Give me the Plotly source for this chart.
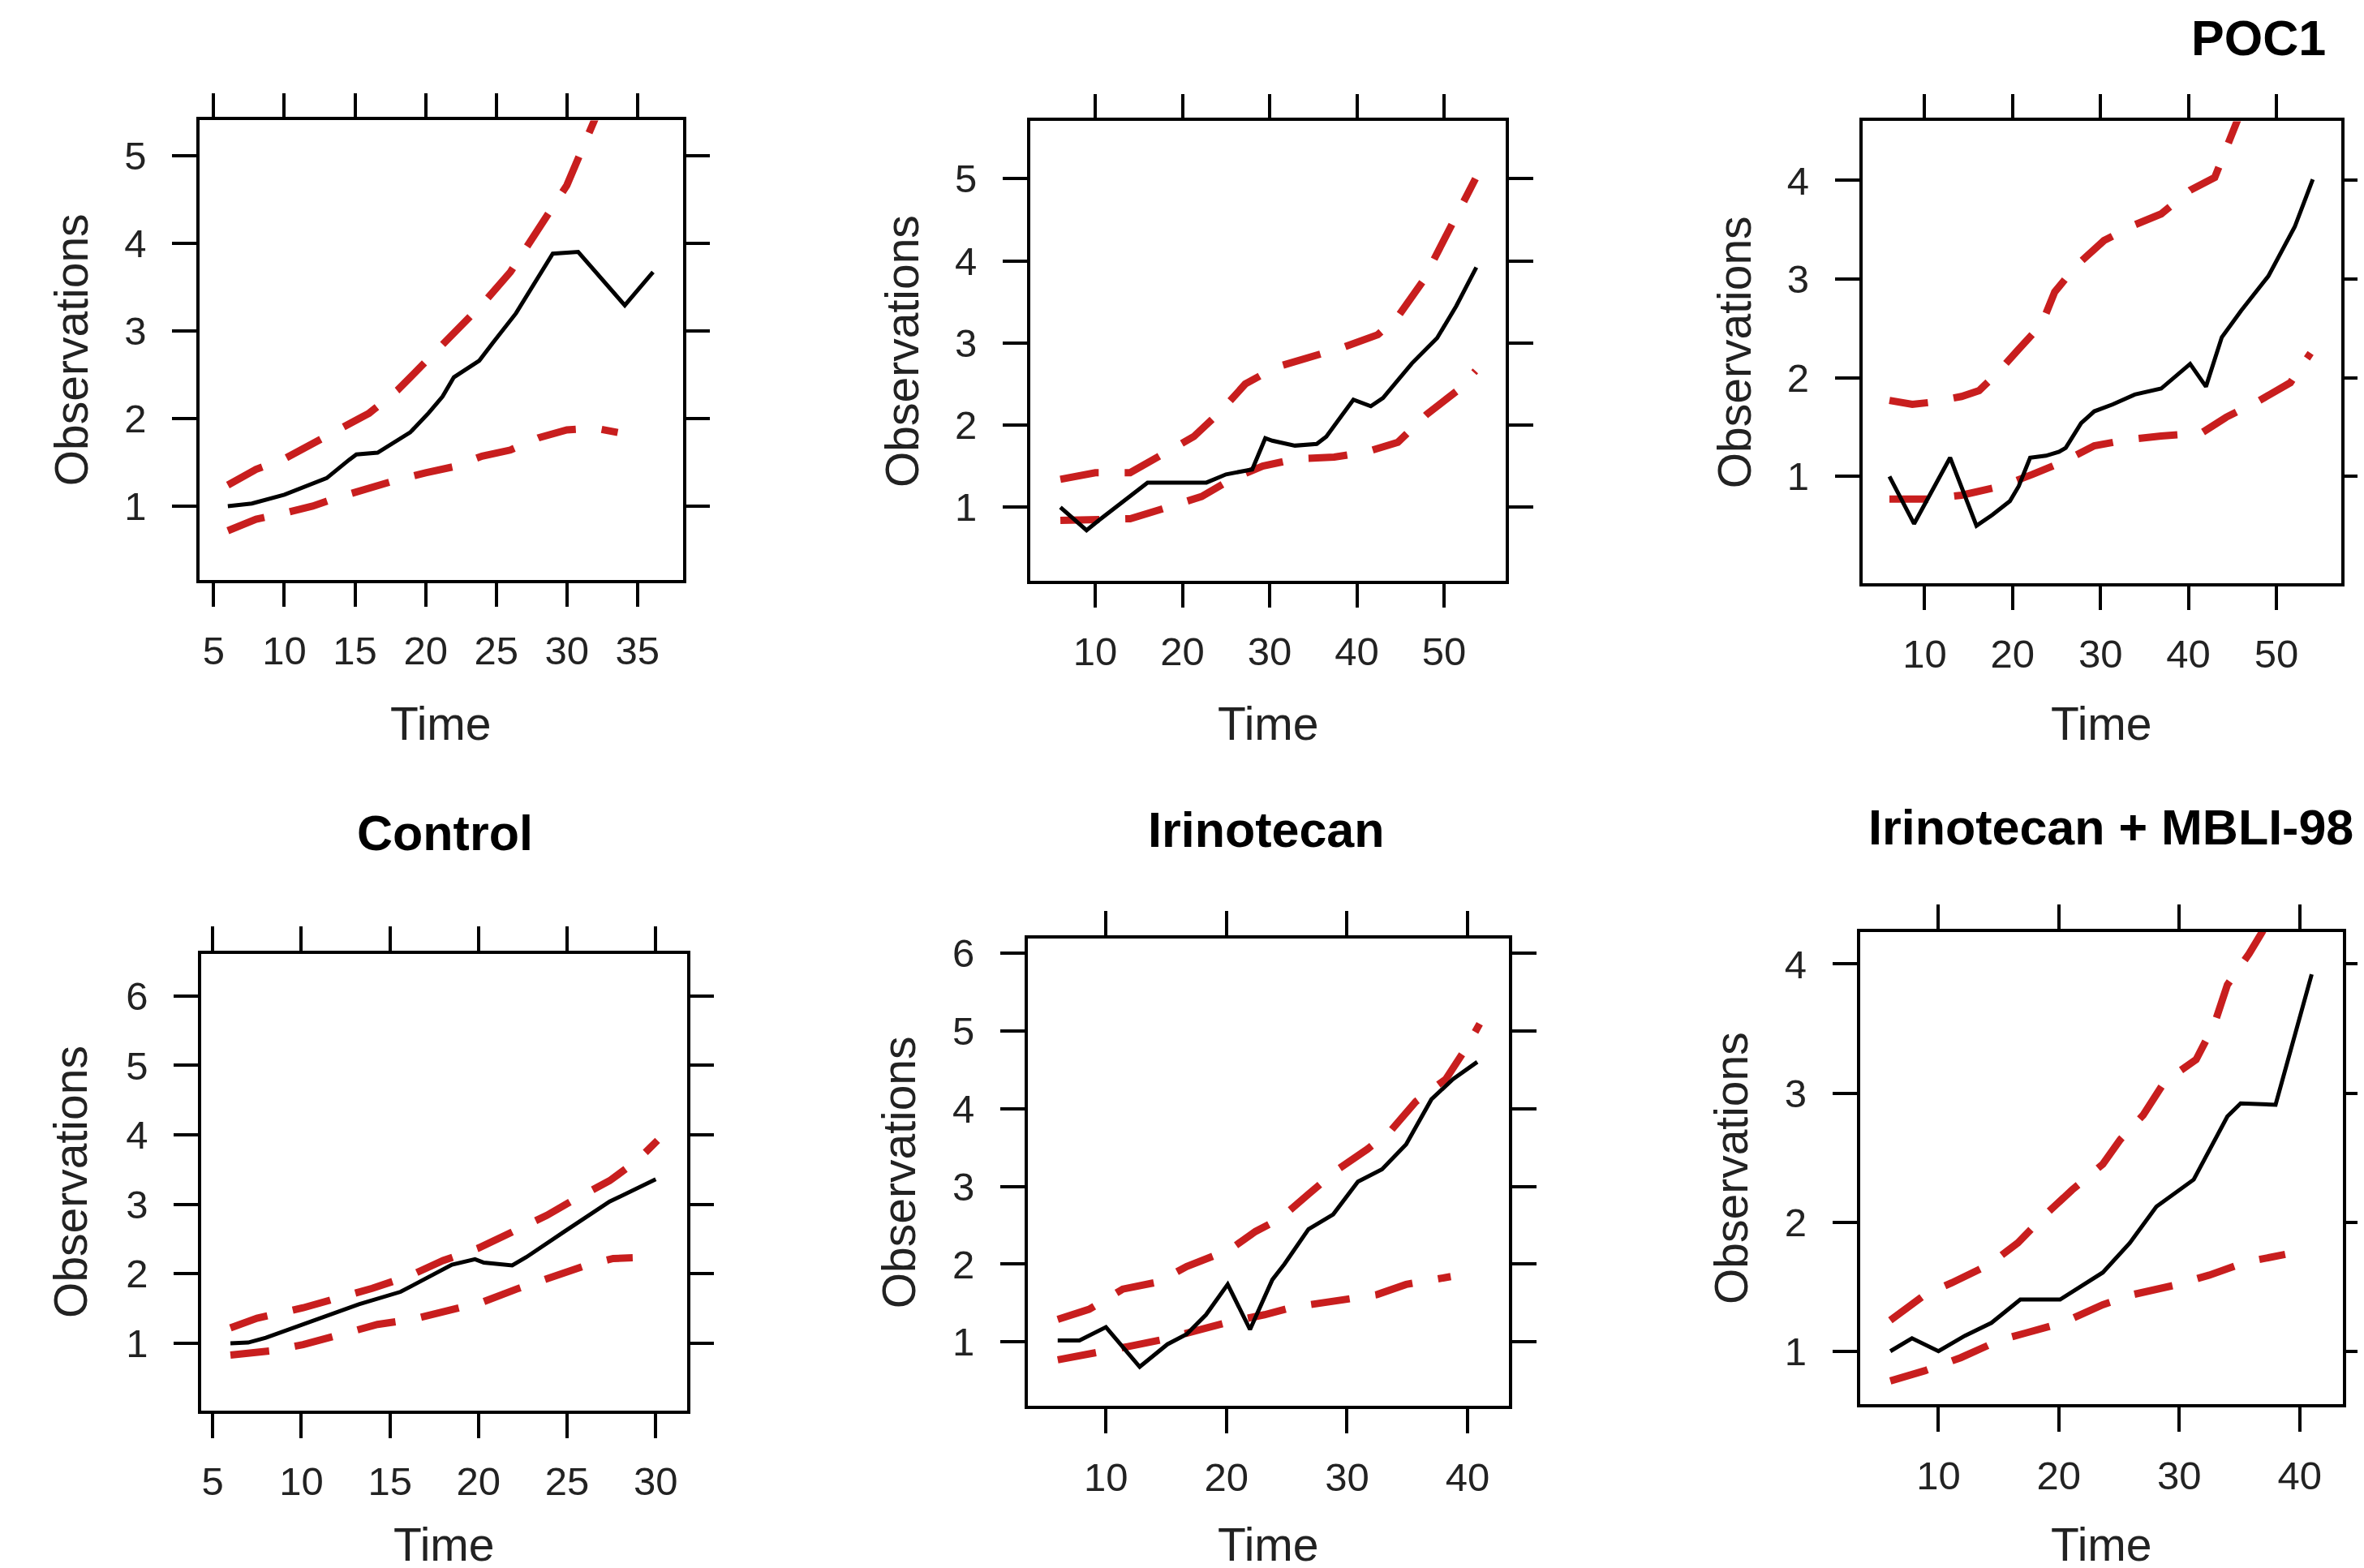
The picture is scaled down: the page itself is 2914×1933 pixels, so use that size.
import plotly.graph_objects as go

W, H = 2914, 1933

# ---------------- data ----------------
# Panel 1 (top-left)
p1_obs_t = [6, 7.7, 10, 13, 14.6, 15.1, 16.6, 17.6, 18.9, 20.2, 21.2, 22, 23.8, 24.8, 26.4, 29, 30.8, 34.1, 36.1]
p1_obs = [1.0, 1.03, 1.13, 1.32, 1.53, 1.59, 1.61, 1.71, 1.84, 2.06, 2.25, 2.47, 2.66, 2.87, 3.20, 3.88, 3.90, 3.29, 3.67]
p1_up_t = [6, 8, 10, 12, 14, 16, 18, 20, 22, 24, 26, 28, 30, 32, 34]
p1_up = [1.24, 1.42, 1.54, 1.71, 1.89, 2.06, 2.32, 2.64, 2.98, 3.30, 3.67, 4.17, 4.66, 5.42, 6.30]
p1_lo_t = [6, 8, 10, 12, 14, 16, 18, 20, 22, 24, 26, 28, 30, 32, 33.6]
p1_lo = [0.72, 0.85, 0.92, 1.0, 1.11, 1.21, 1.30, 1.38, 1.45, 1.57, 1.64, 1.78, 1.87, 1.89, 1.84]

# Panel 2 (top-middle)
p2_obs_t = [6, 9, 10.4, 16, 22.75, 25, 28, 29.5, 30.3, 32.9, 35.4, 36.5, 39.6, 41.6, 43, 46.3, 49.2, 51.4, 53.7]
p2_obs = [1.0, 0.72, 0.84, 1.30, 1.30, 1.40, 1.46, 1.84, 1.81, 1.75, 1.77, 1.86, 2.31, 2.23, 2.33, 2.75, 3.06, 3.45, 3.92]
p2_up_t = [6, 10, 14, 18, 21.3, 24.4, 27.2, 30.6, 34.6, 38.5, 42.4, 44.7, 47.5, 49.7, 51.4, 53.6]
p2_up = [1.34, 1.42, 1.42, 1.65, 1.86, 2.17, 2.50, 2.70, 2.83, 2.95, 3.10, 3.32, 3.74, 4.19, 4.57, 5.0]
p2_lo_t = [6, 10, 14, 18, 22.2, 25.6, 29.2, 33.1, 37.4, 41, 44.7, 48, 51.4, 53.6]
p2_lo = [0.84, 0.84, 0.86, 0.99, 1.13, 1.34, 1.50, 1.59, 1.61, 1.67, 1.79, 2.13, 2.41, 2.66]

# Panel 3 (top-right, POC1)
p3_obs_t = [6, 8.8, 12.9, 15.9, 17.7, 19.7, 20.7, 22, 23.8, 25.3, 26.05, 27.8, 29.3, 31.4, 33.9, 36.9, 40.2, 42, 43.8, 46, 49.1, 52.1, 54.15]
p3_obs = [1.0, 0.52, 1.19, 0.50, 0.61, 0.75, 0.90, 1.19, 1.21, 1.25, 1.29, 1.54, 1.66, 1.73, 1.83, 1.89, 2.14, 1.91, 2.41, 2.68, 3.03, 3.53, 4.01]
p3_up_t = [6, 8.6, 10.6, 14.2, 16.2, 18.2, 20.7, 23.3, 24.8, 27.3, 30.4, 33.9, 36.9, 40.2, 43, 44.5, 46, 50, 54]
p3_up = [1.77, 1.73, 1.75, 1.81, 1.87, 2.04, 2.29, 2.54, 2.87, 3.14, 3.39, 3.55, 3.66, 3.90, 4.03, 4.36, 4.75, 5.6, 6.5]
p3_lo_t = [6, 10.6, 14.2, 18.7, 22.25, 25.8, 29.3, 32.9, 36.9, 41.5, 44.3, 48.1, 51.6, 53.9]
p3_lo = [0.77, 0.77, 0.81, 0.90, 1.02, 1.15, 1.31, 1.37, 1.41, 1.44, 1.60, 1.77, 1.95, 2.25]

# Panel 4 (Control)
p4_obs_t = [6, 7, 8, 10.1, 13.25, 15.6, 16.9, 18.5, 19.8, 20.3, 21.9, 22.7, 24.8, 26.3, 27.4, 30]
p4_obs = [1.0, 1.01, 1.08, 1.27, 1.56, 1.74, 1.92, 2.13, 2.21, 2.16, 2.12, 2.24, 2.60, 2.86, 3.04, 3.36]
p4_up_t = [6, 7.5, 10.1, 12.2, 14, 16.1, 18, 20, 21.9, 23.85, 25.55, 27.4, 28.95, 30.1]
p4_up = [1.22, 1.36, 1.51, 1.65, 1.79, 1.97, 2.19, 2.37, 2.59, 2.84, 3.09, 3.34, 3.63, 3.92]
p4_lo_t = [6, 8.3, 10.1, 12.2, 14.3, 16.4, 18.2, 20.3, 22.15, 24.2, 26.3, 27.6, 28.7]
p4_lo = [0.83, 0.89, 0.98, 1.12, 1.27, 1.35, 1.46, 1.60, 1.78, 1.96, 2.14, 2.22, 2.23]

# Panel 5 (Irinotecan)
p5_obs_t = [6, 7.8, 10, 12.8, 15.1, 16.7, 18.3, 20.1, 21.95, 23.8, 24.8, 26.8, 28.85, 30.9, 32.9, 34.9, 37, 38.8, 40.8]
p5_obs = [1.02, 1.02, 1.19, 0.68, 0.97, 1.10, 1.35, 1.74, 1.16, 1.80, 2.0, 2.45, 2.64, 3.06, 3.22, 3.54, 4.12, 4.38, 4.60]
p5_up_t = [6, 8.6, 11.4, 14.3, 16.7, 20.3, 22.4, 24.4, 26.8, 29.25, 31.7, 33.7, 35.7, 38.2, 39.8, 41]
p5_up = [1.29, 1.42, 1.68, 1.77, 1.97, 2.19, 2.42, 2.58, 2.90, 3.22, 3.48, 3.73, 4.09, 4.38, 4.76, 5.09]
p5_lo_t = [6, 9, 11.8, 14.7, 17.9, 20.3, 23.15, 25.6, 30, 32.5, 34.9, 38.6]
p5_lo = [0.77, 0.85, 0.94, 1.03, 1.16, 1.26, 1.35, 1.45, 1.55, 1.61, 1.74, 1.84]

# Panel 6 (Irinotecan + MBLI-98)
p6_obs_t = [6, 7.8, 10, 12.2, 14.4, 16.8, 20.1, 23.65, 25.9, 28.1, 31.2, 34, 35.1, 38, 41]
p6_obs = [1.0, 1.10, 1.0, 1.12, 1.22, 1.40, 1.40, 1.61, 1.84, 2.12, 2.33, 2.82, 2.92, 2.91, 3.92]
p6_up_t = [6, 8.9, 11.1, 14.2, 16.6, 18.9, 21.1, 23.65, 25.1, 27, 28.8, 31.4, 32.9, 34, 35.8, 36.9, 38.6]
p6_up = [1.24, 1.44, 1.53, 1.67, 1.84, 2.06, 2.25, 2.45, 2.64, 2.83, 3.09, 3.26, 3.53, 3.84, 4.08, 4.25, 4.6]
p6_lo_t = [6, 8.9, 11.85, 15.2, 17.2, 20.3, 23.65, 26.2, 29.55, 32.5, 35.5, 38.8]
p6_lo = [0.77, 0.85, 0.95, 1.09, 1.14, 1.22, 1.36, 1.44, 1.51, 1.59, 1.69, 1.75]

# tick labels / titles
p1_xticks = [5, 10, 15, 20, 25, 30, 35]; p1_yticks = [1, 2, 3, 4, 5]
p2_xticks = [10, 20, 30, 40, 50];        p2_yticks = [1, 2, 3, 4, 5]
p3_xticks = [10, 20, 30, 40, 50];        p3_yticks = [1, 2, 3, 4]
p4_xticks = [5, 10, 15, 20, 25, 30];     p4_yticks = [1, 2, 3, 4, 5, 6]
p5_xticks = [10, 20, 30, 40];            p5_yticks = [1, 2, 3, 4, 5, 6]
p6_xticks = [10, 20, 30, 40];            p6_yticks = [1, 2, 3, 4]
titles = ["", "", "POC1", "Control", "Irinotecan", "Irinotecan + MBLI-98"]
x_label = "Time"
y_label = "Observations"

# ---------------- layout (pixel boxes of each panel) ----------------
boxes = [  # left, right, top, bottom in px
    (239, 837, 132, 701),
    (1267, 1856, 133, 702),
    (2297, 2890, 133, 705),
    (241, 842, 1164, 1730),
    (1264, 1860, 1145, 1724),
    (2294, 2892, 1137, 1722),
]
xranges = [(4.0, 38.2), (2.53, 57.1), (2.91, 57.4), (4.35, 31.75), (3.51, 43.45), (3.47, 43.6)]
yranges = [(0.16, 5.40), (0.107, 5.70), (-0.08, 4.60), (0.03, 6.61), (0.18, 6.19), (0.59, 4.25)]
title_pos = [None, None, (2787, 30), (543, 1015), (1559, 1011), (2605, 1008)]
ylab_x = [80, 1108, 2139, 80, 1104, 2135]
xlab_y = [879, 879, 879, 1896, 1896, 1896]

panels = [
    (p1_obs_t, p1_obs, p1_up_t, p1_up, p1_lo_t, p1_lo, p1_xticks, p1_yticks),
    (p2_obs_t, p2_obs, p2_up_t, p2_up, p2_lo_t, p2_lo, p2_xticks, p2_yticks),
    (p3_obs_t, p3_obs, p3_up_t, p3_up, p3_lo_t, p3_lo, p3_xticks, p3_yticks),
    (p4_obs_t, p4_obs, p4_up_t, p4_up, p4_lo_t, p4_lo, p4_xticks, p4_yticks),
    (p5_obs_t, p5_obs, p5_up_t, p5_up, p5_lo_t, p5_lo, p5_xticks, p5_yticks),
    (p6_obs_t, p6_obs, p6_up_t, p6_up, p6_lo_t, p6_lo, p6_xticks, p6_yticks),
]

RED = "#C81E1E"
FONT = "Liberation Sans, Arial, sans-serif"
fig = go.Figure()
layout = dict(width=W, height=H, margin=dict(l=0, r=0, t=0, b=0),
              paper_bgcolor="white", plot_bgcolor="white", showlegend=False)
annotations = []

for i, (ot, ov, ut, uv, lt, lv, xt, yt) in enumerate(panels):
    n = i + 1
    xa = "x" if n == 1 else f"x{n}"
    ya = "y" if n == 1 else f"y{n}"
    for tt, vv, col, wd, dash in [(ut, uv, RED, 9, "48px,32px"),
                                  (lt, lv, RED, 9, "48px,32px"),
                                  (ot, ov, "black", 5, "solid")]:
        fig.add_trace(go.Scatter(x=tt, y=vv, mode="lines", xaxis=xa, yaxis=ya,
                                 line=dict(color=col, width=wd, dash=dash),
                                 hoverinfo="skip"))
    l, r, t, b = boxes[i]
    common = dict(showgrid=False, zeroline=False, showline=True, linecolor="black",
                  linewidth=3.5, mirror="ticks", ticks="outside", ticklen=30,
                  tickwidth=3.5, tickcolor="black",
                  tickfont=dict(family=FONT, size=49, color="#222222"))
    layout["xaxis" if n == 1 else f"xaxis{n}"] = dict(
        common, domain=[l / W, r / W], range=list(xranges[i]), anchor=ya,
        tickmode="array", tickvals=xt, ticktext=[str(v) for v in xt],
        ticklabelstandoff=12)
    layout["yaxis" if n == 1 else f"yaxis{n}"] = dict(
        common, domain=[1 - b / H, 1 - t / H], range=list(yranges[i]), anchor=xa,
        tickmode="array", tickvals=yt, ticktext=[str(v) for v in yt],
        ticklabelstandoff=22)
    # axis titles
    annotations.append(dict(text=x_label, x=(l + r) / 2 / W, y=1 - xlab_y[i] / H,
                            xref="paper", yref="paper", showarrow=False,
                            xanchor="center", yanchor="middle",
                            font=dict(family=FONT, size=57, color="#222222")))
    annotations.append(dict(text=y_label, x=ylab_x[i] / W, y=1 - (t + b) / 2 / H,
                            xref="paper", yref="paper", showarrow=False, textangle=-90,
                            xanchor="center", yanchor="middle",
                            font=dict(family=FONT, size=57, color="#222222")))
    if titles[i]:
        tx, ty = title_pos[i]
        annotations.append(dict(text="<b>" + titles[i] + "</b>", x=tx / W, y=1 - ty / H,
                                xref="paper", yref="paper", showarrow=False,
                                xanchor="center", yanchor="middle",
                                font=dict(family=FONT, size=61, color="black")))

layout["annotations"] = annotations
fig.update_layout(**layout)
fig.write_html("out.html")
